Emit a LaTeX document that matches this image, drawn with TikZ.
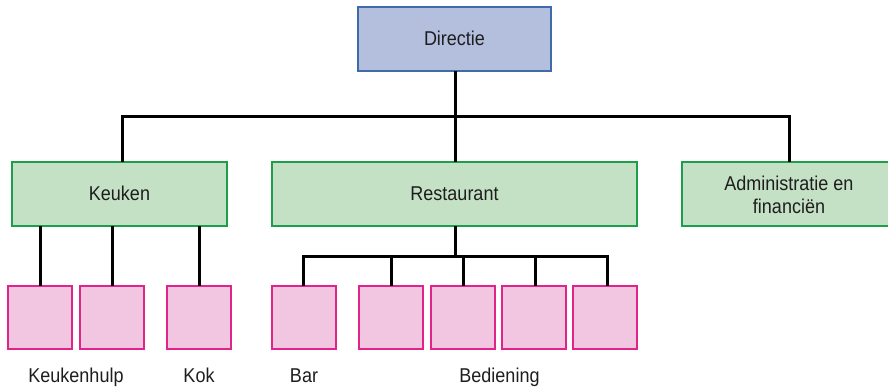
\documentclass[tikz,border=0pt]{standalone}
\usepackage{fontspec}
\setmainfont{Liberation Sans}[FakeStretch=0.9]
\definecolor{dirfill}{HTML}{B4BEDD}
\definecolor{dirdraw}{HTML}{3F6BA8}
\definecolor{grfill}{HTML}{C5E1C5}
\definecolor{grdraw}{HTML}{1E9E4A}
\definecolor{pkfill}{HTML}{F2C6E0}
\definecolor{pkdraw}{HTML}{E0248A}
\definecolor{txt}{HTML}{1E1E1E}
\begin{document}
\begin{tikzpicture}[x=1pt,y=-1pt,
  every node/.style={font=\fontsize{20}{23}\selectfont, text=txt, inner sep=0pt, anchor=base},
  dirbox/.style={draw=dirdraw, fill=dirfill, line width=1.4pt},
  grbox/.style={draw=grdraw, fill=grfill, line width=1.2pt},
  pkbox/.style={draw=pkdraw, fill=pkfill, line width=1.2pt},
  conn/.style={line width=3pt, black}]
\useasboundingbox (0,0) rectangle (888,386);
% boxes
\draw[dirbox] (358,7) rectangle (551,71);
\node (dir) at (454.5,45) {Directie};
\coordinate (dirB) at (455,71);
\draw[grbox] (12,162) rectangle (227,226);
\node (keu) at (119.5,200) {Keuken};
\draw[grbox] (272,162) rectangle (637,226);
\node (res) at (454.5,200) {Restaurant};
\draw[grbox] (682,162) rectangle (889,226);
\node (adm1) at (789,190) {Administratie en};
\node (adm2) at (789,213) {financiën};
% top connectors
\coordinate (hL) at (122,116);
\coordinate (hM) at (455,116);
\coordinate (hR) at (789,116);
\draw[conn] (dirB) -- (hM);
\draw[conn] (122,162) -- (hL) -- (hR) -- (789,162);
\draw[conn] (hM) -- (455,162);
% pink squares
\foreach \n/\x in {k1/8,k2/80,k3/167,r1/272,r2/359,r3/431,r4/502,r5/573}{
  \draw[pkbox] (\x,286) rectangle ++(64,63);
}
% Keuken children
\foreach \x in {40,112,199}{
  \draw[conn] (\x,226) -- (\x,286);
}
% Restaurant children
\draw[conn] (455,226) -- (455,256);
\draw[conn] (303,286) -- (303,256) -- (607,256) -- (607,286);
\foreach \x in {391,463,535}{
  \draw[conn] (\x,256) -- (\x,286);
}
% labels
\node (l1) at (76,382) {Keukenhulp};
\node (l2) at (199,382) {Kok};
\node (l3) at (304,382) {Bar};
\node (l4) at (499.5,382) {Bediening};
\end{tikzpicture}
\end{document}
